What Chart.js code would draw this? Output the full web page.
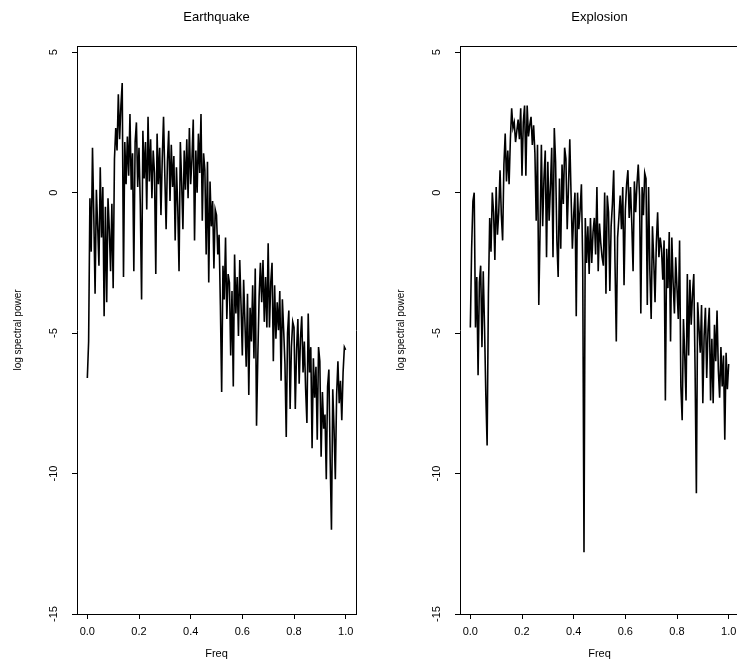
<!DOCTYPE html>
<html>
<head>
<meta charset="utf-8">
<script src="https://cdn.jsdelivr.net/npm/chart.js@4.4.1/dist/chart.umd.min.js"></script>
<style>
  html, body { margin: 0; padding: 0; background: #fff; overflow: hidden; width: 737px; height: 665px; }
  .panel { position: absolute; top: 0; width: 433px; height: 665px; }
</style>
</head>
<body>
<div class="panel" style="left:0px"><canvas id="quake" width="433" height="665"></canvas></div>
<div class="panel" style="left:383px"><canvas id="blast" width="433" height="665"></canvas></div>
<script>
// log spectral power, one value every 0.005 in frequency (0 .. 1)
const earthquakePower = [
  -6.6, -5.3, -0.2, -2.1, 1.6, -0.8, -3.6, 0.1, -1.2, -2.6,
  0.9, -1.6, 0.2, -4.4, -0.5, -3.9, -0.2, -1.3, -2.8, -0.4,
  -3.4, 1.2, 2.3, 1.5, 3.5, 1.9, 3.1, 3.9, -3.0, 1.8,
  0.3, 2.0, 0.6, 2.8, 0.1, 1.4, -2.8, 1.8, 2.5, 0.2,
  1.6, -0.4, -3.8, 2.2, 0.5, 1.8, -0.6, 2.7, 0.4, 1.9,
  -0.2, 1.5, 0.7, -2.9, 2.1, 0.3, 1.6, -0.8, 1.2, 2.7,
  0.6, -1.3, 1.1, 2.2, -0.3, 1.7, 0.2, 1.3, -1.7, 0.9,
  -0.5, -2.8, 1.8, 0.4, -1.3, 1.5, 0.1, 1.9, -0.2, 2.3,
  0.3, 1.2, 2.6, -1.7, 1.5, 0.0, 2.1, 0.7, 2.8, -1.0,
  1.4, 0.8, -2.2, 1.1, -3.2, 0.4, -1.2, -0.3, -2.7, -0.6,
  -0.8, -2.2, -1.5, -4.0, -7.1, -2.6, -3.8, -1.6, -4.5, -2.9,
  -3.2, -5.8, -3.5, -6.9, -2.2, -4.3, -3.0, -5.1, -2.4, -4.0,
  -5.8, -3.1, -4.6, -6.2, -3.6, -7.2, -4.1, -5.3, -3.3, -5.9,
  -2.7, -8.3, -5.8, -3.7, -2.5, -3.9, -2.4, -4.6, -3.0, -4.8,
  -1.8, -4.8, -3.2, -2.5, -6.0, -3.3, -5.2, -3.9, -4.9, -3.5,
  -6.7, -3.8, -4.9, -6.1, -8.7, -5.0, -4.2, -7.7, -5.5, -4.6,
  -4.8, -7.7, -5.6, -4.5, -6.8, -5.2, -4.4, -6.4, -5.3, -7.0,
  -8.2, -4.3, -6.4, -5.5, -9.1, -5.9, -7.3, -6.2, -8.8, -5.5,
  -6.0, -9.4, -7.1, -8.4, -7.9, -10.2, -6.9, -6.3, -9.5, -12.0,
  -7.0, -8.4, -10.2, -7.2, -6.0, -7.5, -6.7, -8.1, -6.4, -5.5,
  -5.6
];

const explosionPower = [
  -4.8, -2.0, -0.3, 0.0, -4.8, -3.0, -6.5, -3.2, -2.6, -5.5,
  -2.8, -4.8, -7.2, -9.0, -3.6, -0.9, -2.1, 0.0, -0.7, -2.4,
  0.2, -1.5, -0.7, 0.8, -0.8, -1.7, 1.0, 2.1, 0.4, 1.5,
  0.3, 1.9, 3.0, 2.3, 2.5, 1.8, 2.2, 2.6, 1.9, 3.0,
  0.6, 2.5, 3.1, 0.6, 3.1, 2.0, 2.4, 2.7, 1.7, 2.4,
  1.4, -1.0, 1.7, -4.0, -1.3, 1.7, -1.2, 0.5, 1.5, -2.3,
  1.1, -1.0, 0.2, 1.6, -2.3, 2.3, 1.1, -1.7, -3.0, 0.5,
  -2.0, 1.0, -0.4, 1.6, 1.2, -1.3, 0.2, 1.9, -0.1, -2.0,
  -0.8, 0.0, -4.4, 0.0, -1.3, -0.6, 0.3, -2.5, -12.8, -0.9,
  -2.5, -1.2, -2.9, -0.9, -2.5, -1.4, -0.9, -2.2, 0.2, -2.8,
  -1.1, -1.8, -2.3, -2.6, 0.0, -3.6, -0.1, -0.7, -3.5, -1.2,
  -0.4, 0.8, -2.5, -5.3, -1.6, -0.9, -0.1, -1.3, 0.2, -3.3,
  -0.6, 0.3, 0.8, -0.9, 0.2, -1.1, -2.8, 0.4, -0.7, 0.3,
  1.0, -0.1, -4.3, 0.2, -0.8, 0.7, 0.5, -4.0, 0.2, -2.8,
  -4.5, -1.2, -2.4, -3.9, -1.8, -0.7, -2.3, -1.6, -2.0, -3.1,
  -1.7, -7.4, -2.0, -3.4, -1.4, -5.3, -1.6, -3.2, -4.3, -2.3,
  -3.4, -4.5, -1.7, -6.9, -8.1, -4.5, -5.8, -7.4, -2.9, -5.8,
  -3.1, -4.7, -3.6, -2.9, -6.3, -10.7, -3.9, -4.8, -5.7, -4.0,
  -7.5, -5.1, -4.1, -6.6, -4.9, -4.1, -7.4, -5.2, -7.5, -4.7,
  -6.0, -4.2, -6.3, -7.3, -5.5, -6.9, -5.8, -8.8, -5.7, -7.0,
  -6.1
];

// frequency grid that goes with the values above
const freq = earthquakePower.map((_, i) => i / 200);

const xTickValues = [0, 0.2, 0.4, 0.6, 0.8, 1.0];
const yTickValues = [-15, -10, -5, 0, 5];

const FONT = 'Liberation Sans, Arial, Helvetica, sans-serif';

// R style box round the plot region
const framePlugin = {
    id: 'frame',
    afterDraw(chart, args, opts) {
        const { ctx, chartArea: a } = chart;
        const l = Math.round(a.left) + 0.5, t = Math.round(a.top) + 0.5;
        const r = Math.round(a.right) + 0.5, b = Math.round(a.bottom) + 0.5;
        ctx.save();
        ctx.strokeStyle = '#000';
        ctx.lineWidth = 1;
        ctx.beginPath();
        ctx.moveTo(l, t);
        ctx.lineTo(r, t);
        if (opts.right !== false) ctx.lineTo(r, b);
        ctx.stroke();
        ctx.restore();
    }
};

function makePanel(id, titleText, values, drawRight) {
    const ctx = document.getElementById(id).getContext('2d');
    return new Chart(ctx, {
        type: 'line',
        data: {
            datasets: [{
                data: freq.map((f, i) => ({ x: f, y: values[i] })),
                borderColor: '#000',
                borderWidth: 1.6,
                pointRadius: 0,
                tension: 0,
                fill: false,
            }],
        },
        options: {
            responsive: false,
            animation: false,
            devicePixelRatio: 1,
            layout: { padding: 0 },
            plugins: {
                legend: { display: false },
                tooltip: { enabled: false },
                frame: { right: drawRight },
                title: {
                    display: true,
                    text: titleText,
                    color: '#000',
                    font: { family: FONT, size: 13, weight: 'normal' },
                    padding: { top: 10, bottom: 20.4 },
                },
            },
            scales: {
                x: {
                    type: 'linear',
                    min: -0.04,
                    max: 1.04,
                    afterBuildTicks: (s) => { s.ticks = xTickValues.map(v => ({ value: v })); },
                    afterFit: (s) => { s.height = 51; },
                    ticks: {
                        color: '#000',
                        font: { family: FONT, size: 11 },
                        padding: 6,
                        maxRotation: 0,
                        autoSkip: false,
                        callback: (v) => Number(v).toFixed(1),
                    },
                    grid: { drawOnChartArea: false, drawTicks: true, tickLength: 5, tickColor: '#000', color: '#000' },
                    border: { display: true, color: '#000', width: 1 },
                    title: {
                        display: true,
                        text: 'Freq',
                        color: '#000',
                        font: { family: FONT, size: 11 },
                        padding: { top: 0, bottom: 4.4 },
                    },
                },
                y: {
                    type: 'linear',
                    min: -15,
                    max: 5.22,
                    afterBuildTicks: (s) => { s.ticks = yTickValues.map(v => ({ value: v })); },
                    afterFit: (s) => { s.width = 77; },
                    ticks: {
                        color: '#000',
                        font: { family: FONT, size: 11 },
                        minRotation: 90,
                        maxRotation: 90,
                        crossAlign: 'center',
                        padding: 10,
                        autoSkip: false,
                        callback: (v) => String(v),
                    },
                    grid: { drawOnChartArea: false, drawTicks: true, tickLength: 5, tickColor: '#000', color: '#000' },
                    border: { display: true, color: '#000', width: 1 },
                    title: {
                        display: true,
                        text: 'log spectral power',
                        color: '#000',
                        font: { family: FONT, size: 10 },
                        padding: { top: 12, bottom: 0 },
                    },
                },
                // empty margin on the right so the title centres over the plot
                spacer: {
                    type: 'linear',
                    position: 'right',
                    ticks: { display: false },
                    grid: { display: false, drawTicks: false },
                    border: { display: false },
                    afterFit: (s) => { s.width = 77; },
                },
            },
        },
        plugins: [framePlugin],
    });
}

makePanel('quake', 'Earthquake', earthquakePower, true);
makePanel('blast', 'Explosion', explosionPower, false);
</script>
</body>
</html>
